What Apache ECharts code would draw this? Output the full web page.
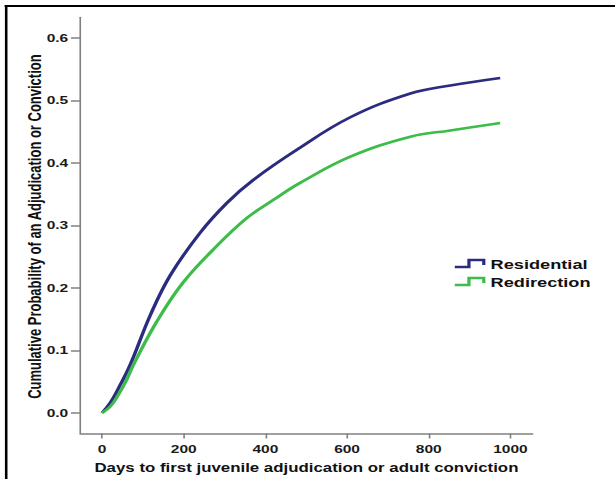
<!DOCTYPE html>
<html>
<head>
<meta charset="utf-8">
<script src="https://cdn.jsdelivr.net/npm/echarts@6/dist/echarts.min.js"></script>
<style>
  html, body { margin: 0; padding: 0; background: #fff; overflow: hidden; }
  #wrap { width: 615px; height: 479px; overflow: hidden; position: relative; }
  #chart { width: 456px; height: 479px; transform: scaleX(1.3487); transform-origin: 0 0; }
</style>
</head>
<body>
<div id="wrap"><div id="chart"></div></div>
<script>
// ---- data ----
const seriesNames = ['Residential', 'Redirection'];
const residentialDays = [0, 20, 40, 69, 118, 167, 240, 306, 371, 477, 608, 755, 853, 975];
const residentialProb = [0, 0.016, 0.039, 0.077, 0.156, 0.22, 0.288, 0.336, 0.373, 0.421, 0.473, 0.511, 0.524, 0.536];
const redirectionDays = [0, 20, 40, 58, 77, 134, 199, 281, 355, 420, 485, 608, 755, 853, 975];
const redirectionProb = [0, 0.01, 0.029, 0.05, 0.077, 0.146, 0.209, 0.267, 0.312, 0.341, 0.368, 0.41, 0.442, 0.452, 0.464];
const xTicks = [0, 200, 400, 600, 800, 1000];
const yTicks = [0, 0.1, 0.2, 0.3, 0.4, 0.5, 0.6];
const xTitle = 'Days to first juvenile adjudication or adult conviction';
const yTitle = 'Cumulative Probability of an Adjudication or Conviction';

const colors = ['#2b2c7f', '#3dbc4a'];
const font = "'Liberation Sans', Arial, sans-serif";
const stepIcon = 'path://M0,7 L10.5,7 L10.5,0 L21.5,0 L21.5,5';

function pairs(xs, ys) { return xs.map((x, i) => [x, ys[i]]); }

const chart = echarts.init(document.getElementById('chart'), null, { renderer: 'svg' });
chart.setOption({
  animation: false,
  backgroundColor: '#fff',
  grid: { left: 59.6, right: 61.2, top: 17.3, bottom: 43, containLabel: false },
  legend: {
    orient: 'vertical',
    left: 331,
    top: 251.5,
    itemWidth: 21.5,
    itemHeight: 7,
    itemGap: 4,
    textStyle: { fontFamily: font, fontSize: 13.5, fontWeight: 'bold', color: '#111' },
    data: seriesNames.map((n, i) => ({
      name: n,
      icon: stepIcon,
      itemStyle: { color: 'rgba(0,0,0,0)', borderColor: colors[i], borderWidth: 2.4 }
    }))
  },
  xAxis: {
    type: 'value',
    min: -53,
    max: 1054,
    name: xTitle,
    nameLocation: 'middle',
    nameGap: 27.5,
    nameMoveOverlap: false,
    nameTextStyle: { fontFamily: font, fontSize: 12.5, fontWeight: 'bold', color: '#111' },
    axisLine: { onZero: false, lineStyle: { color: '#808080', width: 1.5 } },
    axisTick: { customValues: xTicks, length: 5, lineStyle: { color: '#808080', width: 1.2 } },
    axisLabel: { customValues: xTicks, margin: 9.5, fontFamily: font, fontSize: 11.5, fontWeight: 'bold', color: '#1a1a1a',
      formatter: v => String(v) },
    splitLine: { show: false }
  },
  yAxis: {
    type: 'value',
    min: -0.033,
    max: 0.633,
    axisLine: { onZero: false, lineStyle: { color: '#808080', width: 1.2 } },
    axisTick: { customValues: yTicks, length: 7, lineStyle: { color: '#808080', width: 1.5 } },
    axisLabel: { customValues: yTicks, margin: 9, fontFamily: font, fontSize: 11.5, fontWeight: 'bold', color: '#1a1a1a',
      formatter: v => v.toFixed(1) },
    splitLine: { show: false }
  },
  graphic: [
    { type: 'line', shape: { x1: 3.4, y1: 6, x2: 460, y2: 6 }, style: { stroke: '#000', lineWidth: 2.2 } },
    { type: 'line', shape: { x1: 4.6, y1: 5, x2: 4.6, y2: 479 }, style: { stroke: '#000', lineWidth: 1.9 } },
    { type: 'text', x: 25.5, y: 226.6, rotation: Math.PI / 2,
      style: { text: yTitle, fontFamily: font, fontSize: 13, fontWeight: 'bold', fill: '#111', align: 'center', verticalAlign: 'middle' } }
  ],
  series: [
    { name: seriesNames[0], type: 'line', data: pairs(residentialDays, residentialProb), smooth: 0.4, showSymbol: false,
      lineStyle: { color: colors[0], width: 2.6 }, itemStyle: { color: colors[0] } },
    { name: seriesNames[1], type: 'line', data: pairs(redirectionDays, redirectionProb), smooth: 0.4, showSymbol: false,
      lineStyle: { color: colors[1], width: 2.6 }, itemStyle: { color: colors[1] } }
  ]
});
</script>
</body>
</html>
